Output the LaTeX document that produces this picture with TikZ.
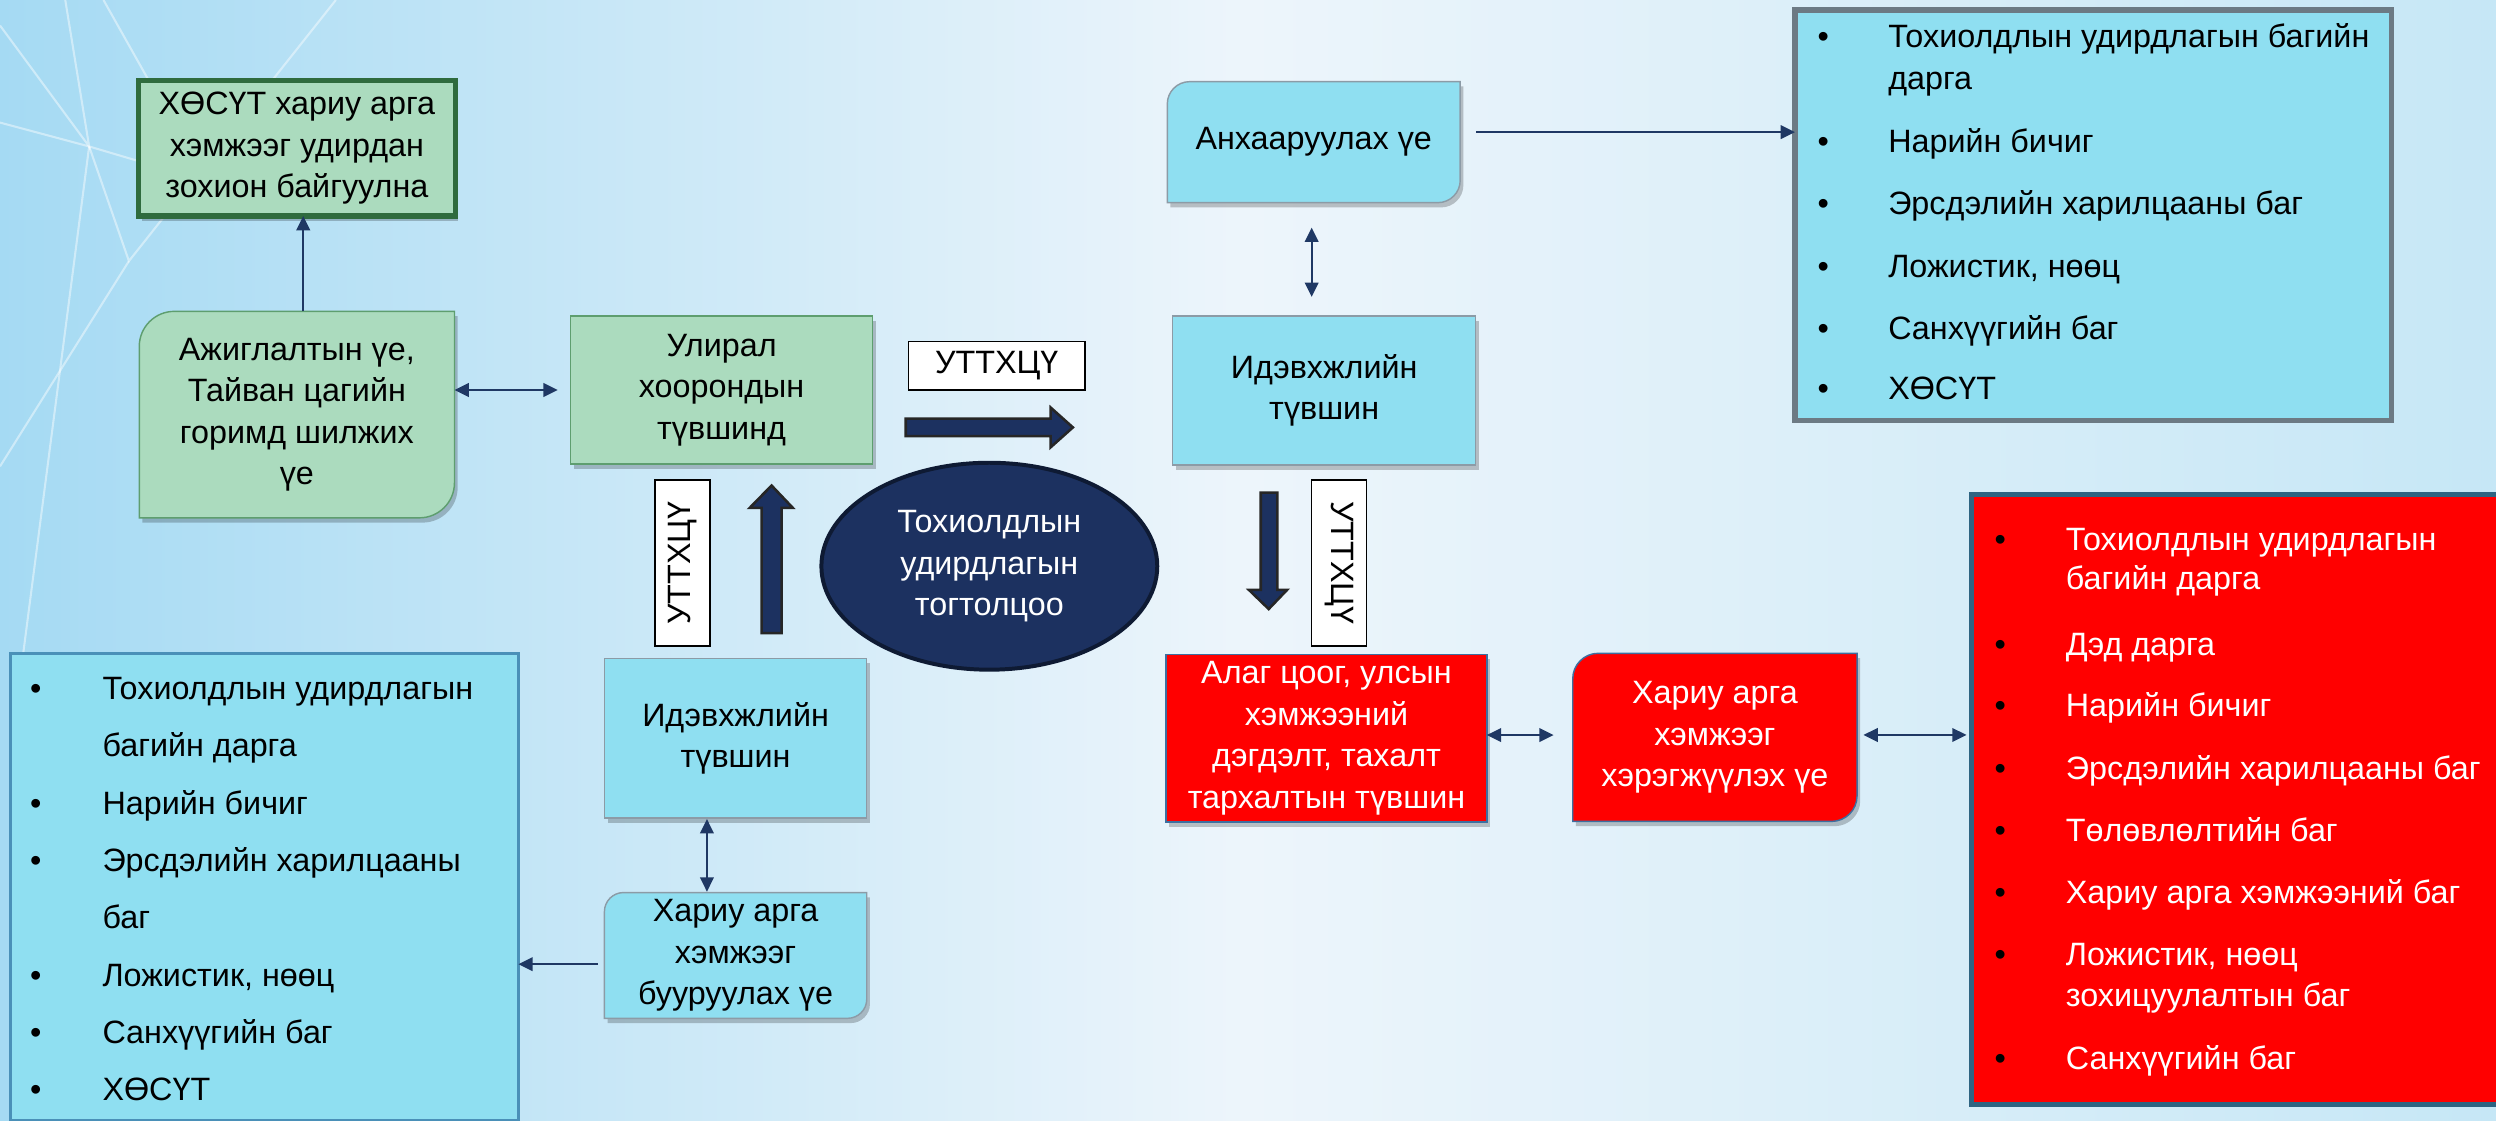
\documentclass[tikz,border=0pt]{standalone}
\usepackage{fontspec}
\setmainfont{Liberation Sans}
\usetikzlibrary{arrows.meta,shadows,shapes.geometric,calc}
\definecolor{bgL}{HTML}{A5DAF3}
\definecolor{bgM}{HTML}{EDF5FB}
\definecolor{bgR}{HTML}{C6E7F6}
\definecolor{gfill}{HTML}{ABDBBE}
\definecolor{gline}{HTML}{5E9E6F}
\definecolor{gdark}{HTML}{2F6B3E}
\definecolor{bfill}{HTML}{8FDFF1}
\definecolor{bline}{HTML}{8C9BA6}
\definecolor{blist}{HTML}{4A90B8}
\definecolor{glist}{HTML}{6C7A84}
\definecolor{rfill}{HTML}{FF0000}
\definecolor{rline}{HTML}{3D6FA0}
\definecolor{rlist}{HTML}{2E6482}
\definecolor{navy}{HTML}{1F3864}
\definecolor{efill}{HTML}{1C3160}
\definecolor{eline}{HTML}{0E1A33}
\tikzset{
  basetext/.style={font=\fontsize{20.3}{26}\selectfont, align=center, inner sep=0pt, outer sep=0pt, text=black},
  shadowed/.style={drop shadow={shadow xshift=2pt, shadow yshift=-3pt, opacity=0.22, fill=black}},
  greenbox/.style={basetext, fill=gfill, draw=gline, line width=0.9pt, shadowed},
  greenthick/.style={basetext, fill=gfill, draw=gdark, line width=3.4pt, shadowed},
  greenpath/.style={fill=gfill, draw=gline, line width=0.9pt, shadowed},
  bluebox/.style={basetext, fill=bfill, draw=bline, line width=0.9pt, shadowed},
  bluepath/.style={fill=bfill, draw=bline, line width=0.9pt, shadowed},
  redbox/.style={basetext, fill=rfill, draw=rline, line width=0.9pt, text=white, shadowed},
  redpath/.style={fill=rfill, draw=rline, line width=0.9pt, shadowed},
  labelbox/.style={basetext, fill=white, draw=black, line width=0.8pt},
  bluelist/.style={inner sep=0pt, outer sep=0pt, fill=bfill, draw=blist, line width=1.6pt},
  graylist/.style={inner sep=0pt, outer sep=0pt, fill=bfill, draw=glist, line width=3.4pt},
  redlist/.style={inner sep=0pt, outer sep=0pt, fill=rfill, draw=rlist, line width=3pt},
  conn/.style={draw=navy, line width=1.3pt, -{Triangle[length=9pt,width=8.5pt]}},
  biconn/.style={draw=navy, line width=1.3pt, {Triangle[length=9pt,width=8.5pt]}-{Triangle[length=9pt,width=8.5pt]}},
  blockarrow/.style={fill=efill, draw=black!85, line width=1.6pt, line join=miter},
  bul/.style={anchor=base, inner sep=0pt, font=\fontsize{20.3}{26}\selectfont, text=black},
  ltxt/.style={anchor=base west, inner sep=0pt, font=\fontsize{20.3}{26}\selectfont},
}
% name, x1, y1, x2, y2, r, path style, text style, text
\newcommand\cornerbox[9]{%
  \path[#7] (#2,#5) -- (#2,{#3+#6}) .. controls (#2,{#3+0.448*#6}) and ({#2+0.448*#6},#3) .. ({#2+#6},#3)
    -- (#4,#3) -- (#4,{#5-#6}) .. controls (#4,{#5-0.448*#6}) and ({#4-0.448*#6},#5) .. ({#4-#6},#5) -- cycle;
  \node[basetext,#8, minimum width={(#4-#2)*1pt}, minimum height={(#5-#3)*1pt}] (#1) at ({(#2+#4)/2},{(#3+#5)/2}) {#9};}
% name, x1, y1, x2, y2, style, text
\newcommand\rectbox[7]{%
  \node[#6, minimum width={(#4-#2)*1pt}, minimum height={(#5-#3)*1pt}] (#1) at ({(#2+#4)/2},{(#3+#5)/2}) {#7};}
% name, xbullet, xtext, ycenter, text
\newcommand\litem[5]{%
  \node[bul] (#1b) at (#2,{#4+6}) {•};
  \node[ltxt] (#1) at (#3,{#4+6}) {#5};}
% name, xtext, ycenter, text
\newcommand\lcont[4]{\node[ltxt] (#1) at (#2,{#3+6}) {#4};}
\begin{document}
\begin{tikzpicture}[x=1pt,y=-1pt]
\fill[left color=bgL, right color=bgR, middle color=bgM] (0,0) rectangle (1568,704);
\useasboundingbox (0,0) rectangle (1568,704);
% decorative lines
\begin{scope}[draw=white, opacity=0.45, line width=1.3pt]
\draw (0,16) -- (56,92) -- (41,0);
\draw (0,77) -- (56,92) -- (110,108);
\draw (65,0) -- (110,80);
\draw (56,92) -- (81,164) -- (211,0);
\draw (81,164) -- (0,293);
\draw (56,92) -- (14,415);
\end{scope}
% left column
\rectbox{xosut}{87}{50.5}{286}{135.7}{greenthick}{ХӨСҮТ хариу арга\\хэмжээг удирдан\\зохион байгуулна}
\cornerbox{ajig}{87.5}{195.6}{285.5}{325.3}{22}{greenpath}{}{Ажиглалтын үе,\\Тайван цагийн\\горимд шилжих\\үе}
\rectbox{ulir}{358.4}{198.5}{548.2}{291.5}{greenbox}{Улирал\\хоорондын\\түвшинд}
\rectbox{lblT}{570.7}{214.6}{681.6}{245}{labelbox}{УТТХЦҮ}
\node[ellipse, basetext, minimum width=211pt, minimum height=130pt, fill=efill, draw=eline, line width=2.5pt, text=white] (core) at (621.5,355.7) {Тохиолдлын\\удирдлагын\\тогтолцоо};
\node[labelbox, rotate=90, minimum width=104.3pt, minimum height=34.5pt] (lblL) at (428.75,353.65) {УТТХЦҮ};
\node[labelbox, rotate=-90, minimum width=104.3pt, minimum height=34.7pt] (lblR) at (841.15,353.65) {УТТХЦҮ};
\rectbox{idevB}{379.7}{413.5}{544.5}{514}{bluebox}{Идэвхжлийн\\түвшин}
\cornerbox{hariuB}{379.7}{560.7}{544.5}{639.7}{12}{bluepath}{}{Хариу арга\\хэмжээг\\бууруулах үе}
\rectbox{listBL}{6.5}{410.4}{325.6}{703.5}{bluelist}{}
% right column
\cornerbox{anx}{733.3}{51.3}{917.3}{127.3}{14}{bluepath}{}{Анхааруулах үе}
\rectbox{idevT}{736.7}{198.5}{927}{292}{bluebox}{Идэвхжлийн\\түвшин}
\rectbox{listTR}{1127.6}{6.3}{1502.5}{264.2}{graylist}{}
\rectbox{alag}{732.6}{411}{934}{516.5}{redbox}{Алаг цоог, улсын\\хэмжээний\\дэгдэлт, тахалт\\тархалтын түвшин}
\cornerbox{hariuR}{988}{410.4}{1166.6}{516}{16}{redpath}{text=white}{Хариу арга\\хэмжээг\\хэрэгжүүлэх үе}
\rectbox{listR}{1238.4}{310.5}{1580}{694}{redlist}{}
% block arrows
\filldraw[blockarrow] (569,263) -- (660,263) -- (660,256) -- (674,268.5) -- (660,281) -- (660,274) -- (569,274) -- cycle;
\filldraw[blockarrow] (478.4,397.7) -- (478.4,319) -- (471,319) -- (484.7,305) -- (498,319) -- (491,319) -- (491,397.7) -- cycle;
\filldraw[blockarrow] (792,309.5) -- (792,370.6) -- (784.6,370.6) -- (797,382.6) -- (808.5,370.6) -- (802.4,370.6) -- (802.4,309.5) -- cycle;
% connectors
\draw[conn] ($(ajig.north)+(4,0)$) -- ($(ajig.north |- xosut.south)+(4,0)$);
\draw[biconn, shorten >=8pt] (ajig.east |- ulir.west) -- (ulir.west);
\draw[biconn] ($(idevB.south)+(-18,0.5)$) -- ($(idevB.south |- hariuB.north)+(-18,-0.5)$);
\draw[conn] ($(hariuB.west)+(-4,5.5)$) -- ($(hariuB.west -| listBL.east)+(0,5.5)$);
\draw[conn] ($(anx.east)+(10,-6.3)$) -- ($(anx.east -| listTR.west)+(0,-6.3)$);
\draw[biconn] ($(anx.south)+(-1.3,15.7)$) -- ($(anx.south |- idevT.north)+(-1.3,-12)$);
\draw[biconn, shorten >=12pt] ($(alag.east)+(0,-2)$) -- ($(alag.east -| hariuR.west)+(0,-2)$);
\draw[biconn, shorten <=4pt, shorten >=3pt] ($(hariuR.east)+(0,-1.5)$) -- ($(hariuR.east -| listR.west)+(0,-1.5)$);
% bottom-left list
\begin{scope}[ltxt/.append style={text=black}]
\litem{bl1}{22.4}{64.2}{433.5}{Тохиолдлын удирдлагын}
\lcont{bl1c}{64.2}{469.5}{багийн дарга}
\litem{bl2}{22.4}{64.2}{505.5}{Нарийн бичиг}
\litem{bl3}{22.4}{64.2}{541.5}{Эрсдэлийн харилцааны}
\lcont{bl3c}{64.2}{577.5}{баг}
\litem{bl4}{22.4}{64.2}{613.5}{Ложистик, нөөц}
\litem{bl5}{22.4}{64.2}{649.5}{Санхүүгийн баг}
\litem{bl6}{22.4}{64.2}{685.5}{ХӨСҮТ}
% top-right list
\litem{tr1}{1145.3}{1186}{24}{Тохиолдлын удирдлагын багийн}
\lcont{tr1c}{1186}{50.3}{дарга}
\litem{tr2}{1145.3}{1186}{90}{Нарийн бичиг}
\litem{tr3}{1145.3}{1186}{128.8}{Эрсдэлийн харилцааны баг}
\litem{tr4}{1145.3}{1186}{168.5}{Ложистик, нөөц}
\litem{tr5}{1145.3}{1186}{207.3}{Санхүүгийн баг}
\litem{tr6}{1145.3}{1186}{245}{ХӨСҮТ}
\end{scope}
% red list
\begin{scope}[ltxt/.append style={text=white}]
\litem{r1}{1256.6}{1297.6}{340}{Тохиолдлын удирдлагын}
\lcont{r1c}{1297.6}{364.4}{багийн дарга}
\litem{r2}{1256.6}{1297.6}{405.6}{Дэд дарга}
\litem{r3}{1256.6}{1297.6}{444}{Нарийн бичиг}
\litem{r4}{1256.6}{1297.6}{483.9}{Эрсдэлийн харилцааны баг}
\litem{r5}{1256.6}{1297.6}{522.4}{Төлөвлөлтийн баг}
\litem{r6}{1256.6}{1297.6}{561.4}{Хариу арга хэмжээний баг}
\litem{r7}{1256.6}{1297.6}{600.7}{Ложистик, нөөц}
\lcont{r7c}{1297.6}{626.4}{зохицуулалтын баг}
\litem{r8}{1256.6}{1297.6}{666.1}{Санхүүгийн баг}
\end{scope}
\end{tikzpicture}
\end{document}
